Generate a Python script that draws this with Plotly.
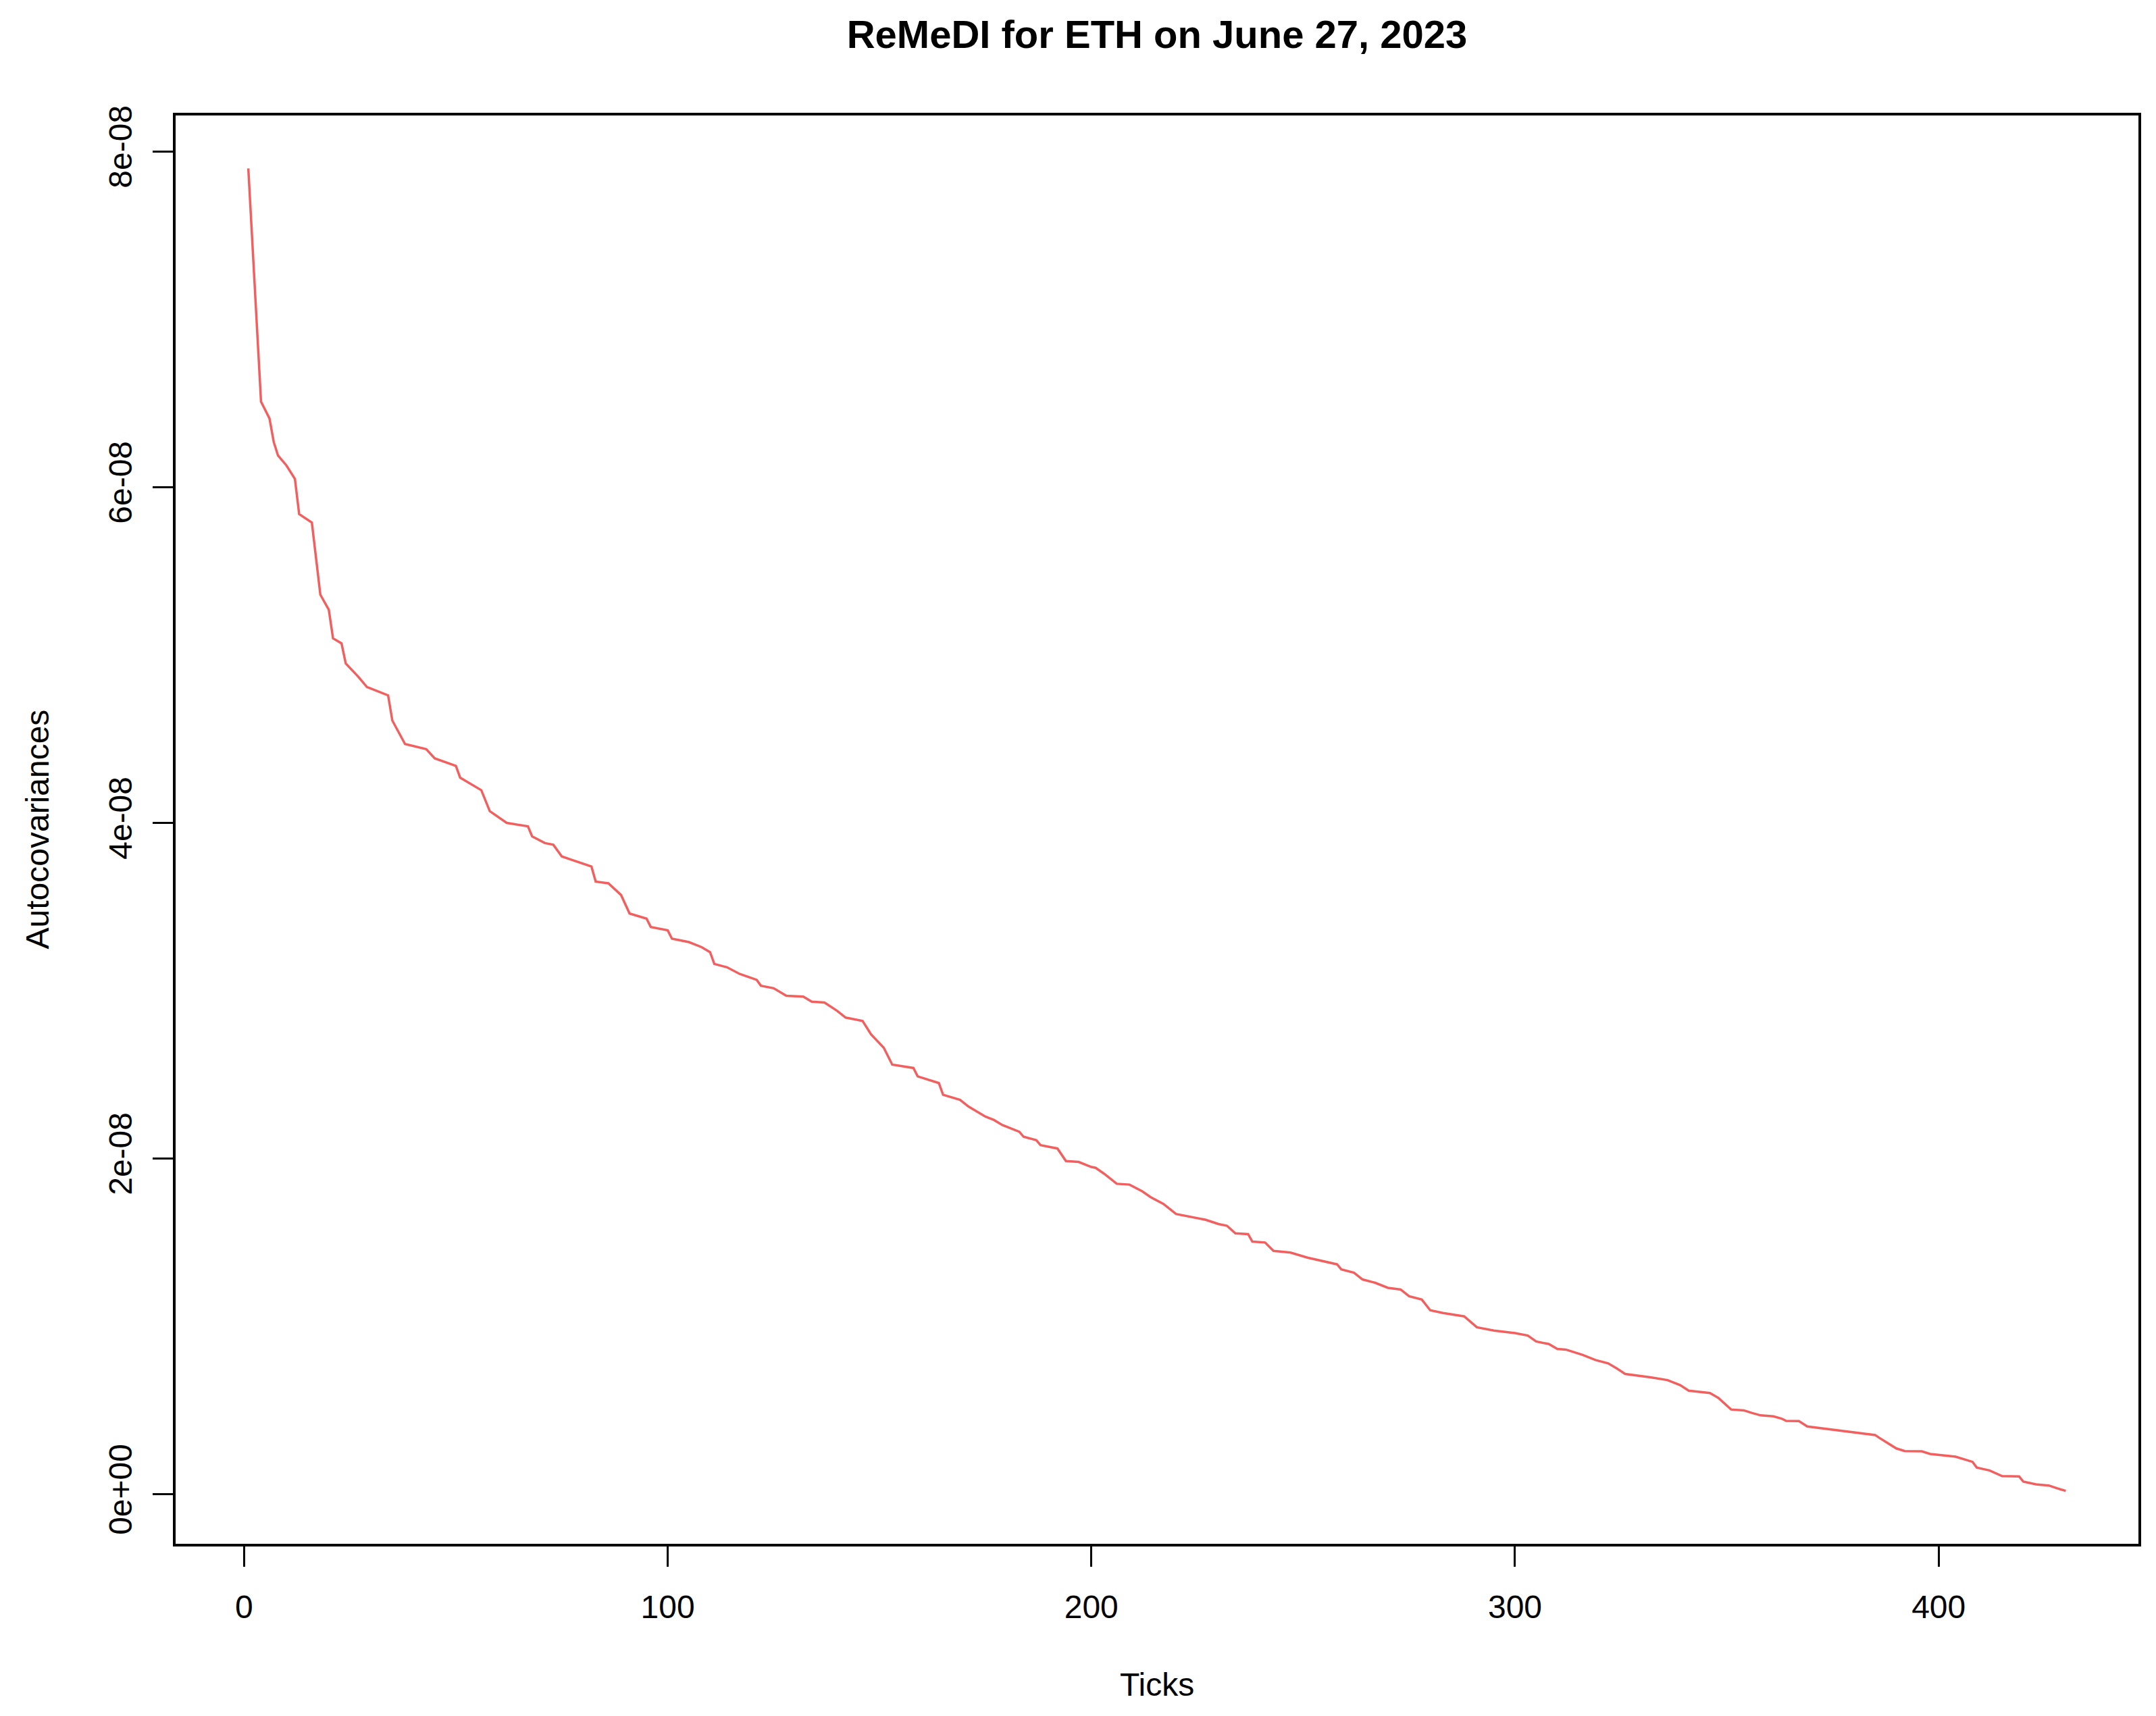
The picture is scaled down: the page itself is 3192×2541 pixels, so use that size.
import numpy as np
import plotly.graph_objects as go

# lag (tick) and autocovariance in units of 1e-08
ticks = [1, 4, 6, 7, 8, 10, 12, 13, 16, 18, 20, 21, 23, 24, 27, 29, 34, 35, 38, 43,
         45, 50, 51, 56, 58, 62, 67, 68, 71, 73, 75, 82, 83, 86, 89, 91, 95, 96, 100, 101,
         105, 108, 110, 111, 114, 117, 121, 122, 125, 128, 132, 134, 137, 140, 142, 146, 148, 151, 153, 158,
         159, 164, 165, 169, 171, 175, 177, 179, 180, 183, 184, 187, 188, 192, 194, 197, 200, 201, 203, 206,
         209, 212, 214, 217, 220, 224, 227, 230, 232, 234, 237, 238, 241, 243, 247, 251, 256, 258, 259, 262,
         264, 267, 270, 273, 275, 278, 280, 283, 288, 291, 295, 300, 303, 305, 308, 310, 312, 316, 319, 322,
         324, 326, 332, 336, 339, 341, 346, 348, 351, 354, 356, 358, 361, 363, 364, 367, 369, 374, 379, 385,
         386, 388, 390, 392, 396, 398, 404, 408, 409, 412, 415, 419, 420, 423, 426, 428, 430]
acov_e8 = [7.90, 6.51, 6.41, 6.27, 6.19, 6.13, 6.05, 5.84, 5.79, 5.36, 5.27, 5.10, 5.07, 4.95, 4.87, 4.81, 4.76, 4.61, 4.47, 4.44,
           4.385, 4.34, 4.27, 4.195, 4.07, 4.00, 3.98, 3.92, 3.88, 3.87, 3.80, 3.74, 3.65, 3.64, 3.57, 3.46, 3.43, 3.38, 3.36, 3.31,
           3.29, 3.26, 3.23, 3.16, 3.14, 3.10, 3.065, 3.03, 3.015, 2.97, 2.965, 2.935, 2.93, 2.88, 2.84, 2.82, 2.74, 2.66, 2.56, 2.54,
           2.49, 2.45, 2.38, 2.35, 2.31, 2.25, 2.23, 2.20, 2.19, 2.16, 2.13, 2.11, 2.08, 2.06, 1.985, 1.98, 1.95, 1.945, 1.91, 1.85,
           1.845, 1.805, 1.77, 1.73, 1.67, 1.65, 1.635, 1.61, 1.60, 1.555, 1.55, 1.505, 1.50, 1.45, 1.44, 1.41, 1.38, 1.37, 1.34, 1.32,
           1.28, 1.26, 1.23, 1.22, 1.18, 1.16, 1.096, 1.08, 1.06, 0.995, 0.975, 0.96, 0.946, 0.91, 0.895, 0.866, 0.862, 0.83, 0.80, 0.78,
           0.75, 0.717, 0.697, 0.68, 0.65, 0.617, 0.603, 0.574, 0.505, 0.50, 0.484, 0.47, 0.464, 0.45, 0.437, 0.436, 0.404, 0.387, 0.37, 0.353,
           0.336, 0.306, 0.273, 0.257, 0.256, 0.24, 0.224, 0.193, 0.159, 0.142, 0.108, 0.106, 0.075, 0.059, 0.052, 0.035, 0.02]

x_tickvals = [0, 100, 200, 300, 400]
y_tickvals = [0, 2e-08, 4e-08, 6e-08, 8e-08]
y_ticktext = ["0e+00", "2e-08", "4e-08", "6e-08", "8e-08"]

y = np.array(acov_e8) * 1e-08

# R style 4% padding on both axes
xpad = (max(ticks) - min(ticks)) * 0.04
ypad = (y.max() - y.min()) * 0.04

font = "Liberation Sans, Arial, sans-serif"

fig = go.Figure(go.Scatter(x=ticks, y=y, mode="lines",
                           line=dict(color="rgb(242,95,95)", width=3.5), showlegend=False))

# page body has an 8px margin, so the figure is 16px smaller than the window
fig.update_layout(
    width=3176, height=2525,
    paper_bgcolor="white", plot_bgcolor="white",
    margin=dict(l=252, r=18, t=163, b=247),
    font=dict(family=font, size=48, color="black"),
    title=dict(text="ReMeDI for ETH on June 27, 2023", x=0.5, xref="paper",
               y=1 - 43 / 2525, yref="container", yanchor="middle",
               font=dict(size=58, weight="bold")),
)

fig.update_xaxes(range=[min(ticks) - xpad, max(ticks) + xpad],
                 tickvals=x_tickvals, ticks="outside", ticklen=30, tickwidth=3,
                 tickcolor="black", ticklabelstandoff=18,
                 showline=True, mirror=True, linecolor="black", linewidth=4,
                 showgrid=False, zeroline=False)
fig.update_yaxes(range=[y.min() - ypad, y.max() + ypad],
                 tickvals=y_tickvals, ticktext=y_ticktext, tickangle=-90,
                 ticks="outside", ticklen=30, tickwidth=3, tickcolor="black",
                 ticklabelstandoff=12,
                 showline=True, mirror=True, linecolor="black", linewidth=4,
                 showgrid=False, zeroline=False)

fig.add_annotation(text="Ticks", xref="paper", yref="paper", x=0.5, y=0,
                   yshift=-208, yanchor="middle", showarrow=False)
fig.add_annotation(text="Autocovariances", xref="paper", yref="paper", x=0, y=0.5,
                   xshift=-205, xanchor="center", textangle=-90, showarrow=False)

fig.write_html("out.html")
